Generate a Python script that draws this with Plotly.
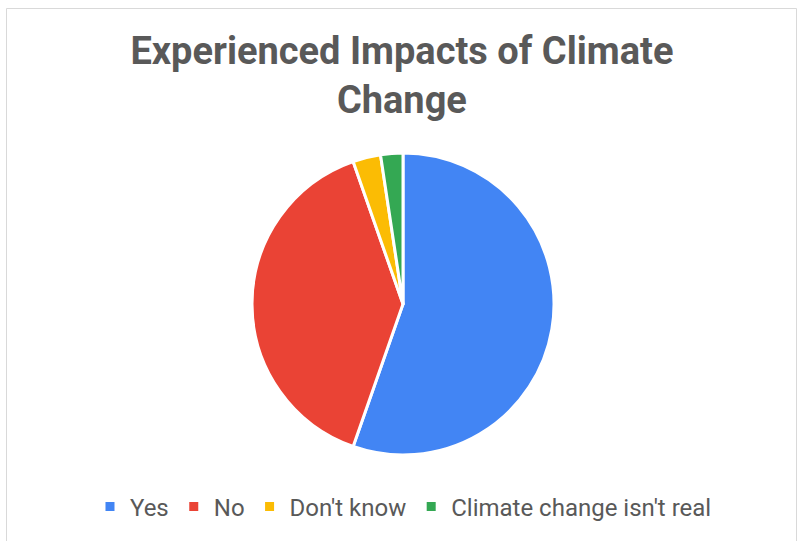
import plotly.graph_objects as go

labels = ["Yes", "No", "Don't know", "Climate change isn't real"]
values = [93, 66, 5, 4]
colors = ["#4285F4", "#EA4335", "#FBBC04", "#34A853"]

W, H = 799, 541
cx, cy, r = 403, 304, 151

fig = go.Figure(go.Pie(
    labels=labels, values=values, sort=False, direction="clockwise", rotation=0,
    marker=dict(colors=colors, line=dict(color="white", width=3)),
    textinfo="none", hoverinfo="label+percent",
    domain=dict(x=[(cx - r) / W, (cx + r) / W], y=[(H - cy - r) / H, (H - cy + r) / H]),
))

fig.update_layout(
    width=W, height=H, margin=dict(l=0, r=0, t=0, b=0),
    paper_bgcolor="white", plot_bgcolor="white",
    font=dict(family="Roboto", color="#595959"),
    title=dict(text="<b>Experienced Impacts of Climate<br>Change</b>", x=0.503, xanchor="center",
               y=(H - 64) / H, yanchor="middle", font=dict(size=38, color="#595959")),
    legend=dict(orientation="h", x=0.505, xanchor="center", y=(H - 507) / H, yanchor="middle",
                font=dict(size=24, color="#595959"), itemwidth=30),
    shapes=[dict(type="rect", xref="paper", yref="paper", x0=6.5 / W, x1=796.5 / W,
                 y0=-0.1, y1=(H - 8.5) / H, line=dict(color="#d9d9d9", width=1))],
)

fig.write_html("out.html", config={"displayModeBar": False},
               post_script="document.body.style.margin='0';")
